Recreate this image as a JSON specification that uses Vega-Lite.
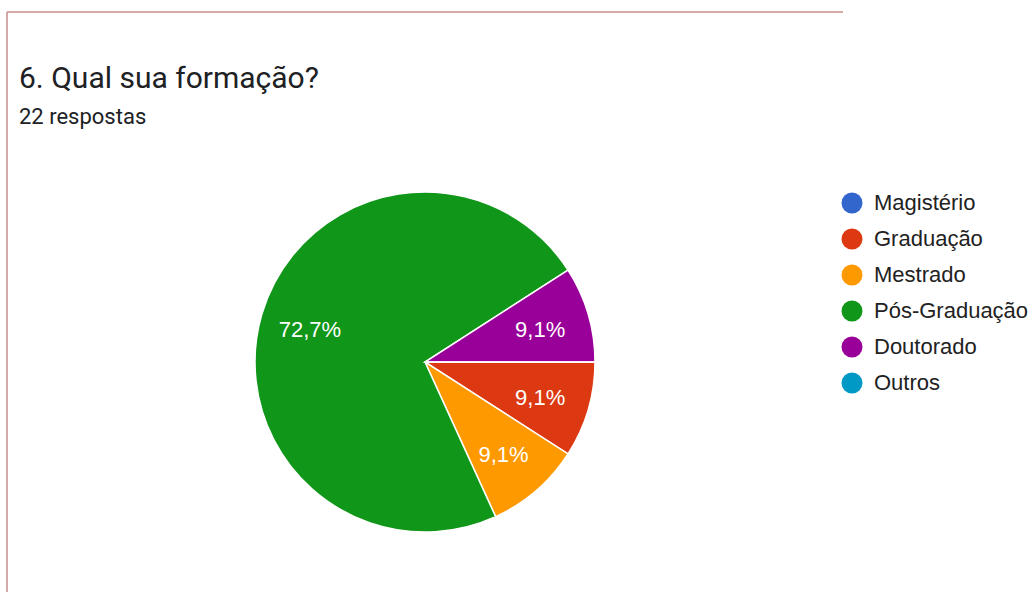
{
  "$schema": "https://vega.github.io/schema/vega-lite/v6.json",
  "autosize": {"type": "none"},
  "padding": {"left": 7, "top": 12, "right": 192, "bottom": 0},
  "width": 836,
  "height": 700,
  "background": "white",
  "view": {"stroke": "#c78d8d", "strokeWidth": 1.5, "strokeDash": [836, 700, 1536, 0]},
  "title": {
    "text": "6. Qual sua formação?",
    "subtitle": "22 respostas",
    "anchor": "start",
    "frame": "group",
    "orient": "top",
    "offset": -116,
    "dx": 12,
    "font": "Roboto",
    "fontSize": 30,
    "fontWeight": "normal",
    "color": "#202124",
    "subtitleFont": "Roboto",
    "subtitleFontSize": 22,
    "subtitleColor": "#202124",
    "subtitlePadding": 13
  },
  "data": {
    "values": [
      {"formacao": "Magistério", "ordem": 1, "n": 0},
      {"formacao": "Graduação", "ordem": 2, "n": 2},
      {"formacao": "Mestrado", "ordem": 3, "n": 2},
      {"formacao": "Pós-Graduação", "ordem": 4, "n": 16},
      {"formacao": "Doutorado", "ordem": 5, "n": 2},
      {"formacao": "Outros", "ordem": 6, "n": 0}
    ]
  },
  "transform": [
    {"joinaggregate": [{"op": "sum", "field": "n", "as": "total"}]},
    {"calculate": "datum.n / datum.total", "as": "pct"}
  ],
  "encoding": {
    "theta": {"field": "n", "type": "quantitative", "stack": true, "scale": {"range": [1.5707963, 7.8539816]}},
    "order": {"field": "ordem", "type": "quantitative"},
    "color": {
      "field": "formacao",
      "type": "nominal",
      "sort": ["Magistério", "Graduação", "Mestrado", "Pós-Graduação", "Doutorado", "Outros"],
      "scale": {
        "domain": ["Magistério", "Graduação", "Mestrado", "Pós-Graduação", "Doutorado", "Outros"],
        "range": ["#3366cc", "#dc3912", "#ff9900", "#109618", "#990099", "#0099c6"]
      },
      "legend": {
        "title": null,
        "orient": "none",
        "legendX": 834,
        "legendY": 180,
        "padding": 0,
        "symbolType": "circle",
        "symbolSize": 440,
        "symbolStrokeWidth": 0,
        "labelFont": "Liberation Sans",
        "labelFontSize": 22,
        "labelColor": "#222222",
        "labelOffset": 11,
        "rowPadding": 14,
        "labelLimit": 300
      }
    }
  },
  "layer": [
    {
      "mark": {"type": "arc", "outerRadius": 170, "stroke": "white", "strokeWidth": 1.5}
    },
    {
      "transform": [{"filter": "datum.n > 0"}],
      "mark": {"type": "text", "radius": 120, "font": "Liberation Sans", "fontSize": 22, "fill": "white", "align": "center", "baseline": "middle", "dy": 2},
      "encoding": {
        "text": {"field": "pct", "type": "quantitative", "format": ".1%"},
        "color": {"value": "white"}
      }
    }
  ],
  "config": {
    "locale": {"number": {"decimal": ",", "thousands": ".", "grouping": [3], "currency": ["R$", ""]}}
  }
}
